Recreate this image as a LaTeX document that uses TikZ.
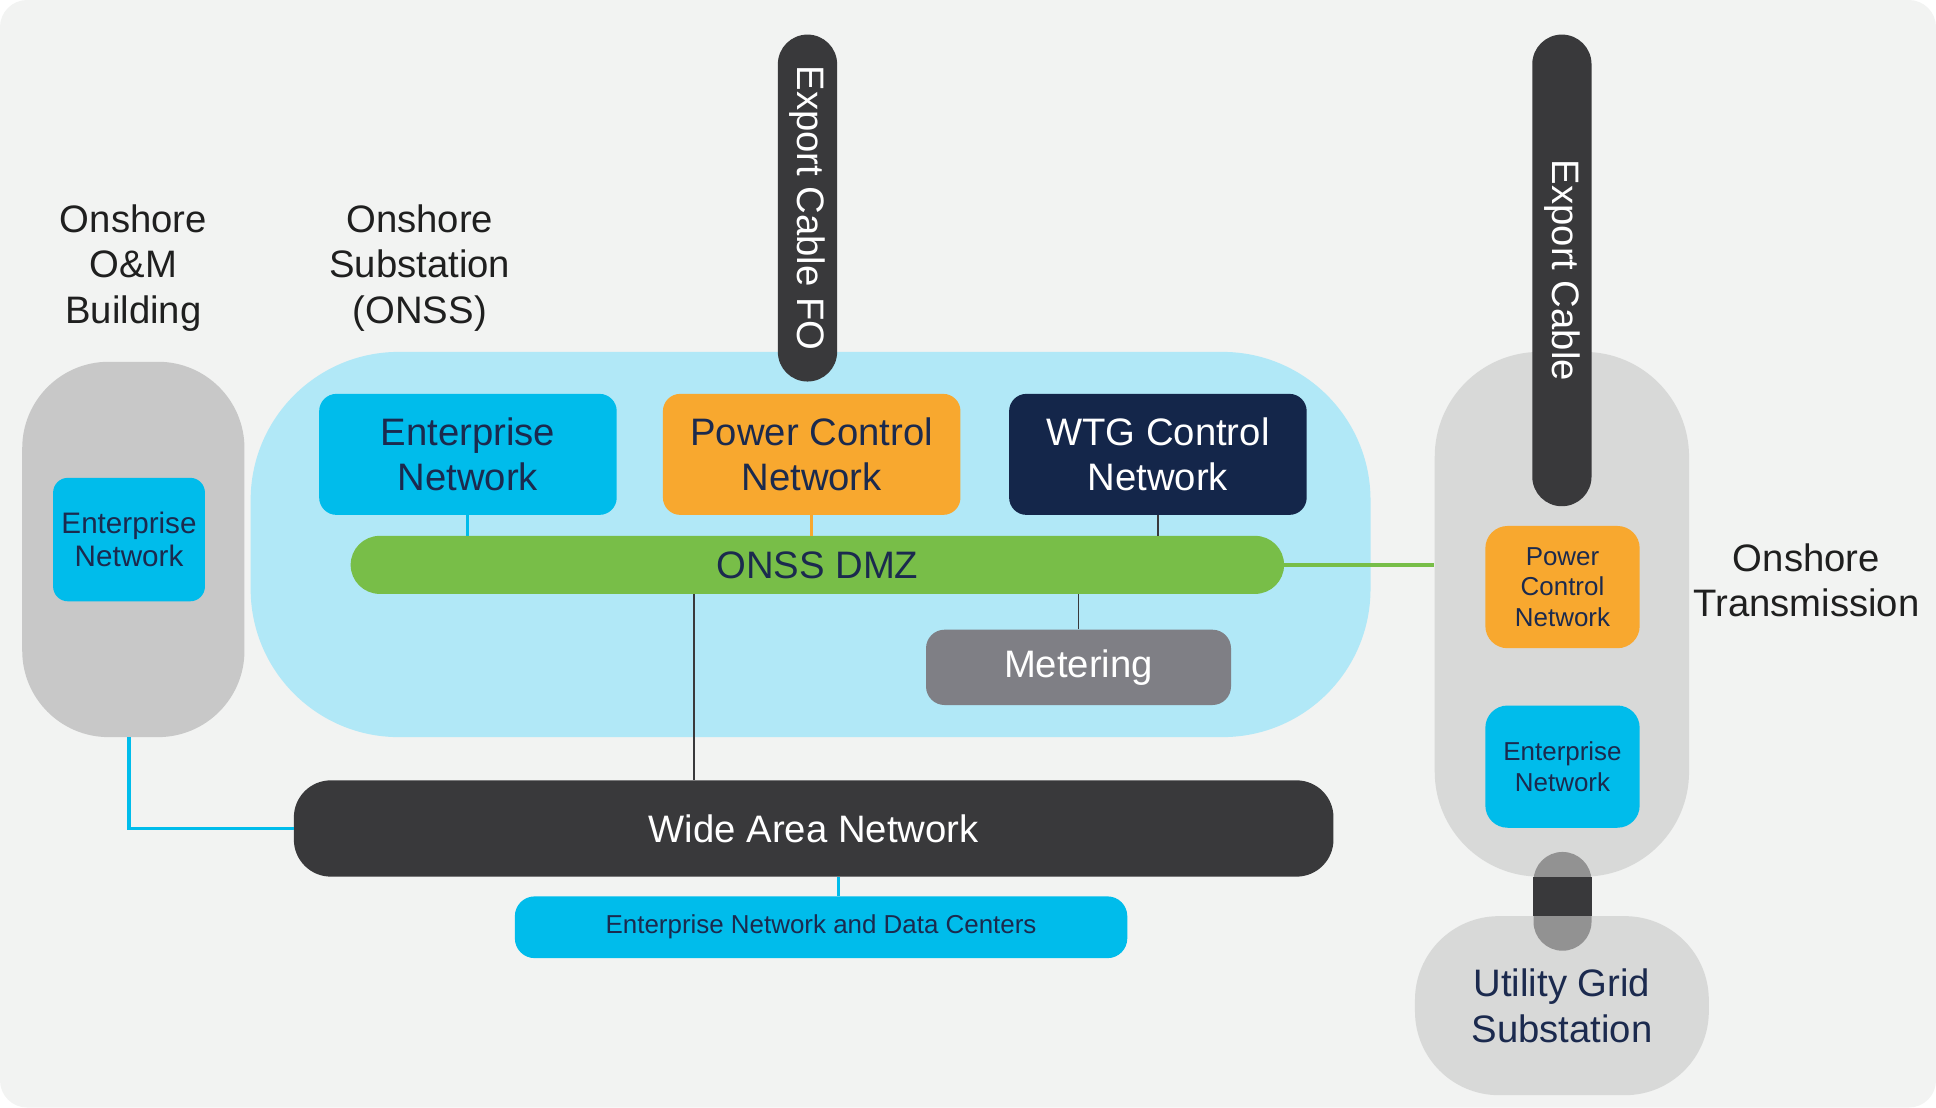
\documentclass[tikz,border=0pt]{standalone}
\usepackage{fontspec}
\setmainfont{Liberation Sans}
\usepackage{tikz}
\usetikzlibrary{positioning, calc}
\definecolor{bgpanel}{HTML}{F2F3F2}
\definecolor{stone}{HTML}{C8C8C8}
\definecolor{mist}{HTML}{D8D9D8}
\definecolor{sky}{HTML}{B1E8F7}
\definecolor{entblue}{HTML}{00BCEB}
\definecolor{amber}{HTML}{F8A82F}
\definecolor{navy}{HTML}{14264A}
\definecolor{ink}{HTML}{1B2A4E}
\definecolor{leaf}{HTML}{78BE48}
\definecolor{slate}{HTML}{7F7F85}
\definecolor{coal}{HTML}{39393B}
\definecolor{haze}{HTML}{929292}
\newcommand{\bigtxt}{\fontsize{31}{37}\selectfont}
\newcommand{\smalltxt}{\fontsize{21}{24.5}\selectfont}
\begin{document}
\begin{tikzpicture}[x=1pt,y=-1pt,
  box/.style={rounded corners=14pt,inner sep=0pt,align=center,text=ink,font=\bigtxt,
              minimum width=241pt,minimum height=98pt},
  minibox/.style={rounded corners=18pt,inner sep=0pt,align=center,text=ink,font=\smalltxt,
              minimum width=125pt,minimum height=99pt,fill=entblue},
  zone/.style={inner sep=0pt,align=center},
  cable/.style={fill=coal,rotate=-90,rounded corners=24pt,inner sep=0pt,
              minimum height=48pt,text=white,font=\bigtxt},
  ttl/.style={align=center,font=\bigtxt,text=black!88},
  wire/.style={line width=2.5pt},
  tap/.style={line width=1.2pt,color=coal}]
  \useasboundingbox (0,0) rectangle (1568,897);
  \fill[bgpanel,rounded corners=22pt] (0,0) rectangle (1568,897);
  % sites
  \node[zone,fill=stone,rounded corners=70pt,minimum width=180pt,minimum height=304pt] (onm) at (108,445) {};
  \node[zone,fill=sky,rounded corners=120pt,minimum width=907pt,minimum height=312pt] (onss) at (656.5,441) {};
  \node[zone,fill=mist,rounded corners=85pt,minimum width=206pt,minimum height=425pt] (tx) at (1265,497.5) {};
  \node[zone,fill=mist,rounded corners=68pt,minimum width=238pt,minimum height=145pt,
        text=ink,font=\bigtxt] (ugs) at (1265,814.5) {Utility Grid\\Substation};
  \node[zone,fill=haze,rounded corners=23.5pt,minimum width=47pt,minimum height=80pt] (tie) at (1265.5,730) {};
  \fill[coal] (tie.west |- tx.south) rectangle (tie.east |- ugs.north);
  % titles
  \node[ttl] (onmttl) at (108,217) {Onshore\\O\&M\\Building};
  \node[ttl] (onssttl) at (340,217) {Onshore\\Substation\\(ONSS)};
  \node[ttl] (txttl) at (1463,470) {Onshore\\Transmission};
  % cables
  \node[cable,minimum width=281pt] (efo) at (654,168.5) {Export Cable FO};
  \node[cable,minimum width=382pt] (ec) at (1265,219) {Export Cable};
  % networks
  \node[box,fill=entblue] (ent) at (379,368) {Enterprise\\Network};
  \node[box,fill=amber,right=37pt of ent] (pcn) {Power Control\\Network};
  \node[box,fill=navy,text=white,right=39pt of pcn] (wtg) {WTG Control\\Network};
  \node[box,fill=leaf,rounded corners=23.5pt,minimum width=756pt,minimum height=47pt] (dmz) at (662,457.5) {ONSS DMZ};
  \node[box,fill=slate,text=white,rounded corners=15pt,minimum width=247pt,minimum height=61pt] (meter) at (873.5,540.5) {Metering};
  \node[box,fill=entblue,font=\fontsize{24}{27}\selectfont,rounded corners=12pt,
        minimum width=123pt,minimum height=100pt] (onment) at (104.5,437) {Enterprise\\Network};
  \node[box,fill=coal,text=white,rounded corners=30pt,minimum width=842pt,minimum height=78pt] (wan) at (659,671) {Wide Area Network};
  \node[box,fill=entblue,font=\smalltxt,rounded corners=16pt,minimum width=496pt,minimum height=50pt] (dc) at (665,751) {Enterprise Network and Data Centers};
  \node[minibox,fill=amber] (txpcn) at (1265.5,475.5) {Power\\Control\\Network};
  \node[minibox,below=46pt of txpcn] (txent) {Enterprise\\Network};
  % links
  \coordinate (drop) at (562,0);
  \coordinate (feed) at (679,0);
  \draw[wire,entblue] (ent.south) -- (ent.south |- dmz.north);
  \draw[wire,amber] (pcn.south) -- (pcn.south |- dmz.north);
  \draw[tap] (wtg.south) -- (wtg.south |- dmz.north);
  \draw[tap] (meter.north) -- (meter.north |- dmz.south);
  \draw[tap] (dmz.south -| drop) -- (wan.north -| drop);
  \draw[wire,line width=3pt,entblue] (onment |- onm.south) |- (wan.west);
  \draw[wire,entblue] (wan.south -| feed) -- (dc.north -| feed);
  \draw[wire,line width=3pt,leaf] (dmz.east) -- (dmz.east -| tx.west);
\end{tikzpicture}
\end{document}
